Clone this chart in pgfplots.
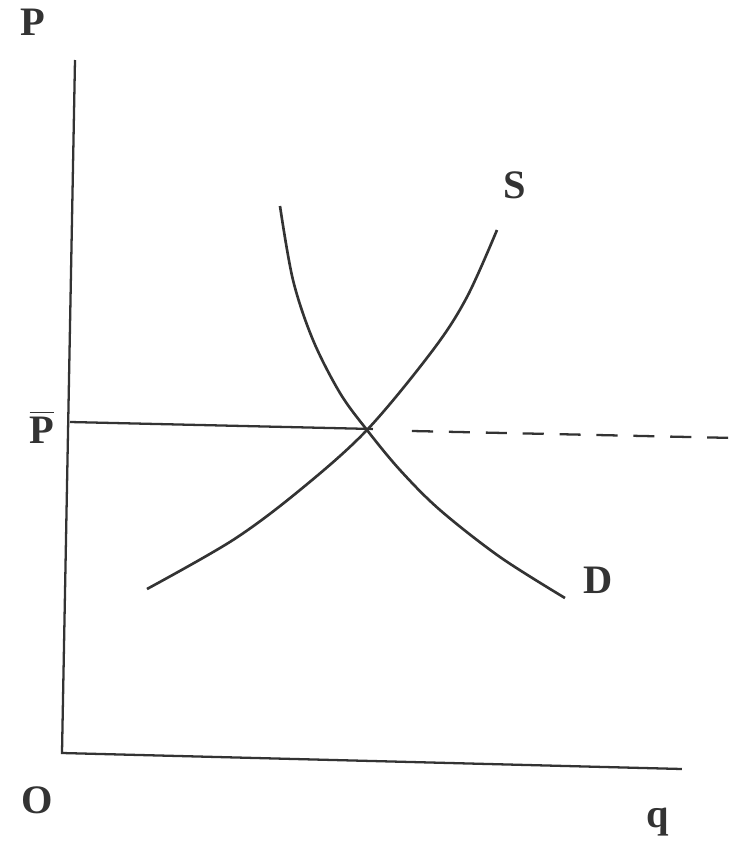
\documentclass[border=0pt]{standalone}
\usepackage{fontspec}
\setmainfont{Liberation Serif}
\usepackage{pgfplots}
\pgfplotsset{compat=1.18}

\begin{document}
\begin{tikzpicture}
\begin{axis}[
    hide axis,
    scale only axis,
    width=7.4cm, height=8.42cm,
    xmin=0, xmax=740, ymin=0, ymax=842,
    y dir=reverse,
    clip=false,
    every axis plot/.append style={line width=0.75pt, color=black!80},
]
% axes (slightly tilted, as in the scan)
\addplot[line width=0.65pt] coordinates {(75,60) (62,753) (682,769)};
% equilibrium price line
\addplot[line width=0.65pt] coordinates {(70,422) (373,429)};
\addplot[line width=0.65pt, dashed, dash pattern=on 6pt off 4.5pt] coordinates {(412,431) (735,438)};
% supply
\addplot[smooth, tension=0.55] coordinates {
    (147,589) (233,540) (300,490) (367,430) (433,350) (467,297) (497,230)
};
% demand
\addplot[smooth, tension=0.55] coordinates {
    (280,206) (293,280) (313,340) (340,393) (367,430) (400,470) (440,510) (500,557) (565,598)
};
\tikzset{lbl/.style={font=\fontsize{11.5}{13}\selectfont\bfseries, text=black!80}}
\node[lbl] at (axis cs:33,22) {P};
\node[lbl] at (axis cs:42,427) {$\overline{\hbox{\bfseries P}}$};
\node[lbl] at (axis cs:37,800) {O};
\node[lbl] at (axis cs:658,822) {q};
\node[lbl] at (axis cs:515,185) {S};
\node[lbl] at (axis cs:598,580) {D};
\end{axis}
\pgfresetboundingbox
\path (0,0) rectangle (7.4cm,8.42cm);
\end{tikzpicture}
\end{document}
